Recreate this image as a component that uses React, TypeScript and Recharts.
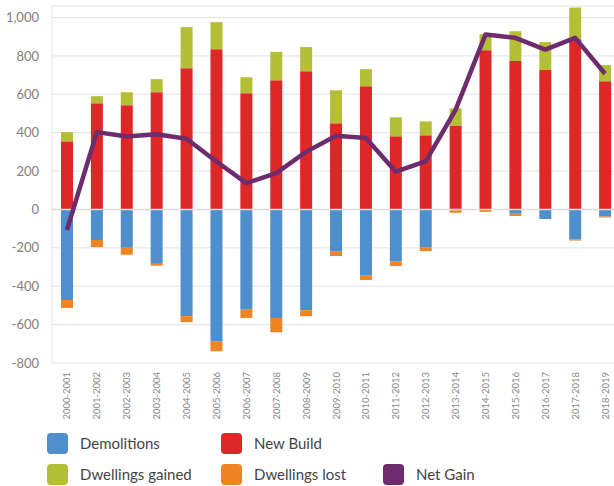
import React from "react";
import {
  Bar,
  CartesianGrid,
  ComposedChart,
  Line,
  ReferenceLine,
  XAxis,
  YAxis,
} from "recharts";

const years = [
  "2000-2001", "2001-2002", "2002-2003", "2003-2004", "2004-2005",
  "2005-2006", "2006-2007", "2007-2008", "2008-2009", "2009-2010",
  "2010-2011", "2011-2012", "2012-2013", "2013-2014", "2014-2015",
  "2015-2016", "2016-2017", "2017-2018", "2018-2019",
];
const demolitions = [-472, -159, -196, -279, -556, -686, -519, -565, -525, -217, -342, -272, -199, -4, -3, -23, -50, -157, -37];
const newBuild = [355, 553, 543, 611, 736, 835, 606, 673, 720, 449, 642, 381, 386, 438, 830, 773, 726, 887, 668];
const dwellingsGained = [48, 37, 68, 68, 214, 141, 83, 148, 126, 172, 89, 99, 73, 89, 83, 156, 146, 165, 84];
const dwellingsLost = [-41, -37, -40, -14, -31, -53, -46, -75, -31, -26, -26, -23, -18, -13, -10, -11, 0, -5, -5];
const netGain = [-107, 403, 380, 392, 368, 250, 137, 189, 300, 384, 372, 197, 250, 519, 911, 894, 833, 894, 707];
const yTicks = [-800, -600, -400, -200, 0, 200, 400, 600, 800, 1000];

const COLORS = {
  demolitions: "#4F8FCD",
  newBuild: "#DE2828",
  gained: "#B5BF36",
  lost: "#EE8522",
  net: "#6E2B6E",
};

const data = years.map((year, i) => ({
  year,
  demolitions: demolitions[i],
  newBuild: newBuild[i],
  gained: dwellingsGained[i],
  lost: dwellingsLost[i],
  net: netGain[i],
}));

const FONT = "Lato, 'Open Sans', sans-serif";

const YearTick = ({ x, y, payload }: any) => (
  <text
    transform={`translate(${x},${y + 1}) rotate(-90)`}
    textAnchor="end"
    dominantBaseline="central"
    fontSize={9.5}
    fill="#8a8a8a"
    fontFamily={FONT}
  >
    {payload.value}
  </text>
);

const legendRows = [
  [
    { label: "Demolitions", color: COLORS.demolitions },
    { label: "New Build", color: COLORS.newBuild },
  ],
  [
    { label: "Dwellings gained", color: COLORS.gained },
    { label: "Dwellings lost", color: COLORS.lost },
    { label: "Net Gain", color: COLORS.net },
  ],
];
const colWidths = [174, 162, 160];

function ChartLegend() {
  return (
    <div style={{ position: "absolute", left: 47, top: 433 }}>
      {legendRows.map((row, r) => (
        <div key={r} style={{ display: "flex", height: 31 }}>
          {row.map((item, c) => (
            <div
              key={item.label}
              style={{ width: colWidths[c], display: "flex", alignItems: "flex-start" }}
            >
              <span
                style={{
                  width: 21,
                  height: 21,
                  borderRadius: 4,
                  background: item.color,
                  display: "inline-block",
                }}
              />
              <span
                style={{
                  marginLeft: 12,
                  fontSize: 15,
                  lineHeight: "21px",
                  color: "#444",
                  fontFamily: FONT,
                }}
              >
                {item.label}
              </span>
            </div>
          ))}
        </div>
      ))}
    </div>
  );
}

export default function App() {
  return (
    <div
      style={{
        position: "absolute",
        left: 0,
        top: 0,
        width: 614,
        height: 486,
        overflow: "hidden",
        background: "#fff",
      }}
    >
      <ComposedChart
        width={620}
        height={430}
        data={data}
        stackOffset="sign"
        margin={{ top: 6, right: 0, left: 0, bottom: 0 }}
        barSize={12}
      >
        <CartesianGrid vertical={false} stroke="#e4e4e4" />
        <XAxis
          dataKey="year"
          interval={0}
          height={67}
          axisLine={false}
          tickLine={false}
          tick={<YearTick />}
        />
        <YAxis
          width={52}
          domain={[-800, 1060]}
          ticks={yTicks}
          allowDataOverflow
          axisLine={{ stroke: "#e4e4e4" }}
          tickLine={false}
          tickMargin={7}
          tick={{ fontSize: 13, fill: "#808080", fontFamily: FONT }}
          tickFormatter={(v) => v.toLocaleString("en-US")}
        />
        <ReferenceLine y={0} stroke="#dcdcdc" strokeWidth={1.5} />
        <Bar dataKey="demolitions" stackId="a" fill={COLORS.demolitions} isAnimationActive={false} />
        <Bar dataKey="newBuild" stackId="a" fill={COLORS.newBuild} isAnimationActive={false} />
        <Bar dataKey="gained" stackId="a" fill={COLORS.gained} isAnimationActive={false} />
        <Bar dataKey="lost" stackId="a" fill={COLORS.lost} isAnimationActive={false} />
        <Line
          type="linear"
          dataKey="net"
          stroke={COLORS.net}
          strokeWidth={4.5}
          strokeLinejoin="round"
          dot={false}
          activeDot={false}
          isAnimationActive={false}
        />
      </ComposedChart>
      <ChartLegend />
    </div>
  );
}
